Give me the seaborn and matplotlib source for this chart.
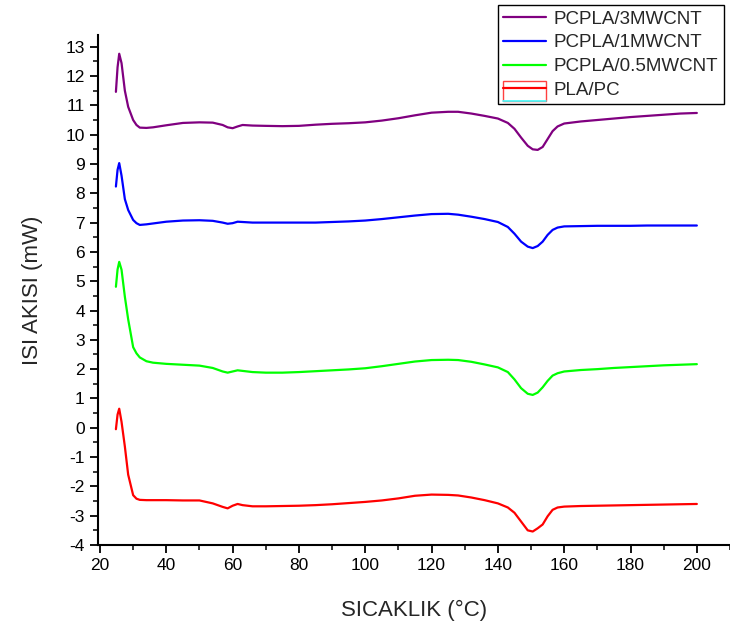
import numpy as np
import pandas as pd
import matplotlib
matplotlib.use("Agg")
import matplotlib.pyplot as plt
from matplotlib.lines import Line2D
from matplotlib.patches import Rectangle
from matplotlib.ticker import MultipleLocator
from matplotlib.legend_handler import HandlerBase
import seaborn as sns

temperature = [24.8, 25.3, 25.8, 26.5, 27.5, 28.5, 30, 31, 32, 34, 36, 40, 45, 50, 54, 57, 58.5,
               60, 61.5, 63, 66, 70, 75, 80, 85, 90, 95, 100, 105, 110, 115, 120, 125, 128,
               132, 136, 140, 143, 145, 147, 149, 150.5, 152, 153.5, 155, 156.5, 158, 160,
               165, 170, 175, 180, 185, 190, 195, 200]

pcpla_3mwcnt = [11.46, 12.3, 12.76, 12.44, 11.5, 10.95, 10.5, 10.33, 10.24, 10.23, 10.25, 10.32,
                10.4, 10.42, 10.41, 10.33, 10.25, 10.22, 10.28, 10.33, 10.31, 10.3, 10.29, 10.3,
                10.34, 10.37, 10.39, 10.42, 10.48, 10.56, 10.66, 10.75, 10.78, 10.78, 10.72,
                10.64, 10.55, 10.4, 10.2, 9.9, 9.62, 9.5, 9.48, 9.58, 9.85, 10.12, 10.28, 10.38,
                10.45, 10.5, 10.55, 10.6, 10.64, 10.68, 10.72, 10.74]

pcpla_1mwcnt = [8.23, 8.8, 9.03, 8.6, 7.8, 7.43, 7.09, 6.98, 6.92, 6.94, 6.97, 7.03, 7.07, 7.08,
                7.06, 7.0, 6.96, 6.98, 7.03, 7.02, 7.0, 7.0, 7.0, 7.0, 7.0, 7.02, 7.04, 7.07,
                7.12, 7.18, 7.24, 7.29, 7.3, 7.27, 7.2, 7.12, 7.02, 6.85, 6.62, 6.35, 6.18,
                6.13, 6.2, 6.35, 6.58, 6.75, 6.83, 6.87, 6.88, 6.89, 6.89, 6.89, 6.9, 6.9,
                6.9, 6.9]

pcpla_05mwcnt = [4.81, 5.4, 5.66, 5.39, 4.47, 3.7, 2.75, 2.54, 2.4, 2.27, 2.22, 2.18, 2.15, 2.12,
                 2.04, 1.92, 1.88, 1.92, 1.96, 1.94, 1.9, 1.88, 1.88, 1.9, 1.93, 1.96, 1.99,
                 2.03, 2.1, 2.18, 2.26, 2.31, 2.32, 2.31, 2.25, 2.16, 2.06, 1.9, 1.65, 1.35,
                 1.16, 1.12, 1.2, 1.38, 1.6, 1.78, 1.86, 1.92, 1.97, 2.0, 2.04, 2.07, 2.1,
                 2.13, 2.15, 2.17]

pla_pc = [-0.05, 0.45, 0.65, 0.2, -0.64, -1.6, -2.3, -2.42, -2.46, -2.47, -2.47, -2.47, -2.48,
          -2.48, -2.58, -2.7, -2.75, -2.66, -2.6, -2.64, -2.68, -2.68, -2.67, -2.66, -2.64,
          -2.61, -2.57, -2.53, -2.48, -2.41, -2.32, -2.28, -2.29, -2.31, -2.38, -2.47, -2.58,
          -2.72, -2.9, -3.2, -3.5, -3.54, -3.43, -3.3, -3.02, -2.8, -2.72, -2.69, -2.67,
          -2.66, -2.65, -2.64, -2.63, -2.62, -2.61, -2.6]

series_names = ["PCPLA/3MWCNT", "PCPLA/1MWCNT", "PCPLA/0.5MWCNT", "PLA/PC"]
series_colors = ["#800080", "#0000FF", "#00FF00", "#FF0000"]

frames = []
for name, vals in zip(series_names, [pcpla_3mwcnt, pcpla_1mwcnt, pcpla_05mwcnt, pla_pc]):
    frames.append(pd.DataFrame({"T": temperature, "Q": vals, "Sample": name}))
df = pd.concat(frames, ignore_index=True)

sns.set_style("ticks")
plt.rcParams["font.family"] = ["Liberation Sans", "DejaVu Sans"]
plt.rcParams["axes.unicode_minus"] = False


class BoxLineHandler(HandlerBase):
    def create_artists(self, legend, orig_handle, xdescent, ydescent, width, height,
                       fontsize, trans):
        x0 = -xdescent
        y0 = -ydescent
        yc = y0 + height / 2
        bot = yc - 0.95 * height
        top = yc + 0.55 * height
        rect = Rectangle((x0, bot), width, top - bot, facecolor="none",
                         edgecolor="#FF4040", lw=1.0, transform=trans)
        line = Line2D([x0, x0 + width], [yc, yc], color=orig_handle.get_color(),
                      lw=1.6, transform=trans)
        cyan = Line2D([x0, x0 + width], [bot, bot], color="#40FFFF", lw=1.2,
                      transform=trans)
        return [rect, line, cyan]


fig = plt.figure(figsize=(7.3, 6.3), dpi=100)
ax = fig.add_axes([98 / 730, 85 / 630, 632 / 730, 510 / 630])

sns.lineplot(data=df, x="T", y="Q", hue="Sample", hue_order=series_names,
             palette=dict(zip(series_names, series_colors)), linewidth=1.6,
             legend=False, ax=ax, sort=False)

ax.set_xlim(19.4, 210)
ax.set_ylim(-4, 13.4)
ax.xaxis.set_major_locator(MultipleLocator(20))
ax.xaxis.set_minor_locator(MultipleLocator(10))
ax.yaxis.set_major_locator(MultipleLocator(1))
ax.yaxis.set_minor_locator(MultipleLocator(0.5))
ax.set_xticks(np.arange(20, 201, 20))
ax.set_yticks(np.arange(-4, 14, 1))
ax.tick_params(axis="both", which="major", direction="out", length=6, width=1.3,
               labelsize=12.5, colors="black")
ax.tick_params(axis="both", which="minor", direction="out", length=3.5, width=1.3)
for s in ["top", "right"]:
    ax.spines[s].set_visible(False)
for s in ["left", "bottom"]:
    ax.spines[s].set_linewidth(1.5)
    ax.spines[s].set_color("black")

ax.set_xlabel("SICAKLIK (°C)", fontsize=16, labelpad=19)
ax.set_ylabel("ISI AKISI (mW)", fontsize=16, labelpad=16)

handles = [Line2D([], [], color=c, lw=1.6) for c in series_colors]
leg = fig.legend(handles, series_names, loc="upper right",
                 bbox_to_anchor=(724 / 730, 1 - 5 / 630), fontsize=13.5,
                 frameon=True, fancybox=False, shadow=False, borderpad=0.3,
                 labelspacing=0.35, handlelength=2.3, handletextpad=0.4,
                 borderaxespad=0.0, handler_map={handles[3]: BoxLineHandler()})
leg.get_frame().set_edgecolor("black")
leg.get_frame().set_linewidth(1.0)
leg.get_frame().set_alpha(1)

fig.savefig("out.png", dpi=100)
